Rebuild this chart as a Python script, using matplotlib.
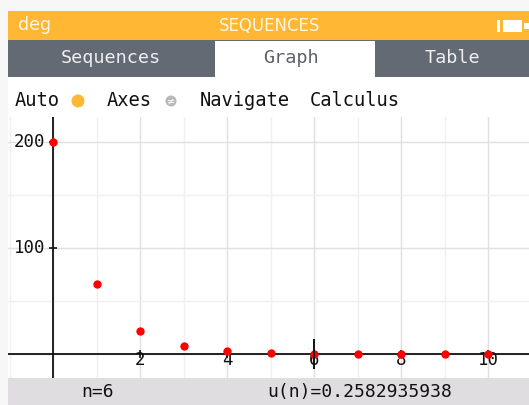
import numpy as np
import matplotlib.pyplot as plt
from matplotlib.patches import Rectangle, Circle

# sequence values
n = [0, 1, 2, 3, 4, 5, 6, 7, 8, 9, 10]
u = [200, 66, 21.8, 7.2, 2.37, 0.78, 0.258, 0.085, 0.028, 0.0093, 0.0031]
x_ticks = [2, 4, 6, 8, 10]
y_ticks = [100, 200]
cursor_n = 6
cursor_text = "u(n)=0.2582935938"

W, H = 529, 405
ORANGE = "#ffb734"
TABGRAY = "#646a74"
BANNER = "#e0dde0"
MONO = "DejaVu Sans Mono"

fig = plt.figure(figsize=(W / 100, H / 100), dpi=100)
fig.patch.set_facecolor("#f7f7f7")

# pixel-space overlay for the calculator chrome
ui = fig.add_axes([0, 0, 1, 1])
ui.set_xlim(0, W)
ui.set_ylim(H, 0)
ui.axis("off")

def box(x0, y0, x1, y1, color):
    ui.add_patch(Rectangle((x0, y0), x1 - x0, y1 - y0, facecolor=color, edgecolor="none"))

box(8, 11, W, 40, ORANGE)
box(8, 40, W, 77, TABGRAY)
box(215, 41, 375, 77, "white")
box(8, 77, W, 117, "white")
box(8, 378, W, H, BANNER)

ui.text(18, 25, "deg", color="#fff6e6", fontsize=12.5, va="center", ha="left")
ui.text(270, 26, "SEQUENCES", color="#fff6e6", fontsize=12, va="center", ha="center")
# battery
box(497, 20, 500, 32, "white")
box(503, 20, 522, 32, "white")
box(524, 23, W, 29, "white")

ui.text(111, 58, "Sequences", color="#eeeeee", fontsize=13.3, family=MONO, va="center", ha="center")
ui.text(291, 58, "Graph", color="#5a5f69", fontsize=13.3, family=MONO, va="center", ha="center")
ui.text(452, 58, "Table", color="#eeeeee", fontsize=13.3, family=MONO, va="center", ha="center")

ui.text(15, 101, "Auto", color="#111111", fontsize=13.5, family=MONO, va="center", ha="left")
ui.add_patch(Circle((78, 101), 6.5, facecolor=ORANGE, edgecolor="none"))
ui.text(107, 101, "Axes", color="#111111", fontsize=13.5, family=MONO, va="center", ha="left")
ui.add_patch(Circle((171, 101), 5.5, facecolor="#b8b8b8", edgecolor="none"))
ui.text(171, 101, "\u2260", color="white", fontsize=7, va="center", ha="center")
ui.text(200, 101, "Navigate", color="#111111", fontsize=13.5, family=MONO, va="center", ha="left")
ui.text(310, 101, "Calculus", color="#111111", fontsize=13.5, family=MONO, va="center", ha="left")

ui.text(98, 392, "n=%d" % cursor_n, color="#111111", fontsize=13, family=MONO, va="center", ha="center")
ui.text(360, 392, cursor_text, color="#111111", fontsize=13, family=MONO, va="center", ha="center")

# graph area
px_x, px_y = 43.5, 1.06
x0_px, y0_px = 53, 354
top_px, bot_px = 117, 378
ax = fig.add_axes([8 / W, (H - bot_px) / H, (W - 8) / W, (bot_px - top_px) / H])
ax.set_facecolor("white")
ax.set_xlim((8 - x0_px) / px_x, (W - x0_px) / px_x)
ax.set_ylim((y0_px - bot_px) / px_y, (y0_px - top_px) / px_y)
for s in ax.spines.values():
    s.set_visible(False)
ax.set_xticks([])
ax.set_yticks([])

for gx in range(-1, 12):
    c = "#e2dfe2" if gx % 2 == 0 else "#f1eff1"
    ax.axvline(gx, color=c, lw=1.0, zorder=0)
for gy in range(-50, 250, 50):
    c = "#e2dfe2" if gy % 100 == 0 else "#f1eff1"
    ax.axhline(gy, color=c, lw=1.0, zorder=0)

ax.axhline(0, color="#111111", lw=1.3, zorder=2)
ax.axvline(0, color="#111111", lw=1.3, zorder=2)

for t in x_ticks:
    ax.plot([t], [0], marker="|", ms=6, mew=1.2, color="#111111", zorder=2)
    ax.annotate(str(t), (t, 0), xytext=(0, -6), textcoords="offset pixels",
                ha="center", va="center", fontsize=12.5, family=MONO, color="#111111", zorder=3)
for t in y_ticks:
    ax.plot([0], [t], marker="_", ms=6, mew=1.2, color="#111111", zorder=2)
    ax.annotate(str(t), (0, t), xytext=(-8, 0), textcoords="offset pixels",
                ha="right", va="center", fontsize=12.5, family=MONO, color="#111111", zorder=3)

ax.plot(n, u, "o", color="#ff0000", ms=6, mec="none", zorder=4)
ax.plot([cursor_n], [u[cursor_n]], marker="|", ms=22, mew=1.4, color="#111111", zorder=5)

fig.savefig("out.png", dpi=100, facecolor=fig.get_facecolor())
